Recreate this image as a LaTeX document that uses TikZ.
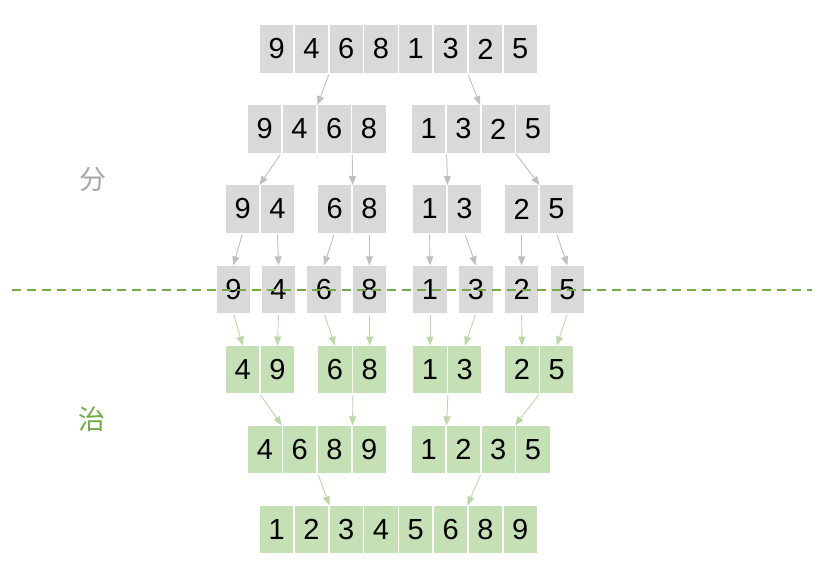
\documentclass[tikz,border=0pt]{standalone}
\usepackage{fontspec}
\newfontfamily\digitfont{Liberation Sans}
\newfontfamily\cjkfont{Noto Sans CJK SC}
\usetikzlibrary{arrows.meta}
\definecolor{cellgray}{HTML}{D9D9D9}
\definecolor{cellgreen}{HTML}{C5E0B4}
\definecolor{arrgray}{HTML}{BFBFBF}
\definecolor{arrgreen}{HTML}{B9D9A4}
\definecolor{linegreen}{HTML}{70AD47}
\definecolor{labgray}{HTML}{A6A6A6}
\begin{document}
\begin{tikzpicture}[x=1pt,y=-1pt,
  cell/.style={minimum width=33.2pt, minimum height=47.5pt, inner sep=0pt,
    font=\digitfont\fontsize{29}{32}\selectfont, text=black},
  gcell/.style={cell, fill=cellgray},
  vcell/.style={cell, fill=cellgreen},
  garrow/.style={draw=arrgray, line width=0.9pt, -{Triangle[length=9pt,width=7pt]}, shorten <=2pt},
  varrow/.style={draw=arrgreen, line width=0.9pt, -{Triangle[length=9pt,width=7pt]}, shorten <=2pt},
  lab/.style={font=\cjkfont\fontsize{27}{30}\selectfont, inner sep=0pt}]
\useasboundingbox (0,0) rectangle (824,588);
% row 1
\foreach \d [count=\i] in {9,4,6,8,1,3,2,5}
  \node[gcell] (r1c\i) at ({276.6+(\i-1)*34.8},49) {\d};
% row 2
\foreach \d [count=\i] in {9,4,6,8}
  \node[gcell] (r2c\i) at ({264.6+(\i-1)*34.8},129) {\d};
\foreach \d [count=\i from 5] in {1,3,2,5}
  \node[gcell] (r2c\i) at ({428.6+(\i-5)*34.8},129) {\d};
% row 3
\node[gcell] (r3c1) at (242.6,209) {9};
\node[gcell] (r3c2) at (277.4,209) {4};
\node[gcell] (r3c3) at (334.6,209) {6};
\node[gcell] (r3c4) at (369.4,209) {8};
\node[gcell] (r3c5) at (429.6,209) {1};
\node[gcell] (r3c6) at (464.4,209) {3};
\node[gcell] (r3c7) at (521.6,209) {2};
\node[gcell] (r3c8) at (556.4,209) {5};
% row 4
\foreach \d/\x [count=\i] in {9/233.4,4/278.5,6/324,8/369.4,1/430,3/476,2/521.6,5/567.4}
  \node[gcell] (r4c\i) at (\x,289.3) {\d};
% row 5
\node[vcell] (r5c1) at (242.7,369.5) {4};
\node[vcell] (r5c2) at (277.5,369.5) {9};
\node[vcell] (r5c3) at (335,369.5) {6};
\node[vcell] (r5c4) at (369.8,369.5) {8};
\node[vcell] (r5c5) at (430,369.5) {1};
\node[vcell] (r5c6) at (464.8,369.5) {3};
\node[vcell] (r5c7) at (522,369.5) {2};
\node[vcell] (r5c8) at (556.8,369.5) {5};
% row 6
\foreach \d [count=\i] in {4,6,8,9}
  \node[vcell] (r6c\i) at ({264.9+(\i-1)*34.8},449.3) {\d};
\foreach \d [count=\i from 5] in {1,2,3,5}
  \node[vcell] (r6c\i) at ({428.6+(\i-5)*34.8},449.3) {\d};
% row 7
\foreach \d [count=\i] in {1,2,3,4,5,6,8,9}
  \node[vcell] (r7c\i) at ({276.6+(\i-1)*34.8},529.3) {\d};
% labels
\node[lab, text=labgray] (fen) at (93,180) {分};
\node[lab, text=linegreen] (zhi) at (92,419) {治};
% divide arrows
\draw[garrow] (r1c3.south west) -- (r2c3.north west);
\draw[garrow] (r1c6.south east) -- (r2c6.north east);
\draw[garrow] (r2c1.south east) -- (r3c1.north east);
\draw[garrow] (r2c4.south west) -- (r3c4.north west);
\draw[garrow] (r2c6.south west) -- (r3c6.north west);
\draw[garrow] (r2c7.south east) -- (r3c8.north west);
\foreach \i in {1,...,8}
  \draw[garrow] (r3c\i.south) -- (r4c\i.north);
% conquer arrows
\foreach \i in {1,...,8}
  \draw[varrow] (r4c\i.south) -- (r5c\i.north);
\draw[varrow] (r5c1.south east) -- (r6c1.north east);
\draw[varrow] (r5c4.south west) -- (r6c4.north west);
\draw[varrow] (r5c6.south west) -- (r6c6.north west);
\draw[varrow] (r5c8.south west) -- (r6c7.north east);
\draw[varrow] (r6c3.south west) -- (r7c3.north west);
\draw[varrow] (r6c7.south west) -- (r7c6.north east);
% dashed separator
\coordinate (dl) at (12,290);
\coordinate (dr) at (812,290);
\draw[linegreen, line width=1.8pt, dash pattern=on 9pt off 6pt] (dl) -- (dr);
\end{tikzpicture}
\end{document}
